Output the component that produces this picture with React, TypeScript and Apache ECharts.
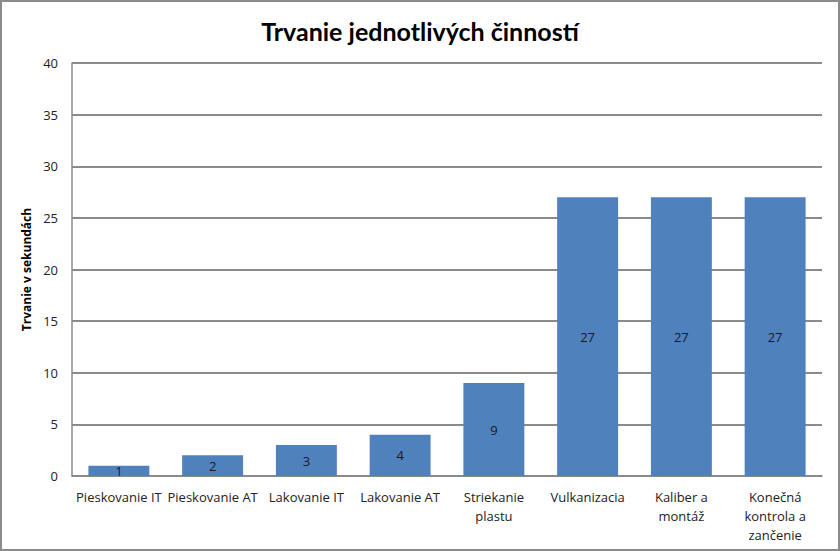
import React, { useEffect, useRef } from "react";
import * as echarts from "echarts";

const categories = [
  "Pieskovanie IT",
  "Pieskovanie AT",
  "Lakovanie IT",
  "Lakovanie AT",
  "Striekanie\nplastu",
  "Vulkanizacia",
  "Kaliber a\nmontáž",
  "Konečná\nkontrola a\nzančenie",
];
const values = [1, 2, 3, 4, 9, 27, 27, 27];
const titleText = "Trvanie jednotlivých činností";
const yAxisName = "Trvanie v sekundách";

export default function App() {
  const ref = useRef<HTMLDivElement>(null);
  useEffect(() => {
    document.body.style.margin = "0";
    const chart = echarts.init(ref.current!, null, { renderer: "svg" });
    const font = "Open Sans";
    chart.setOption({
      animation: false,
      backgroundColor: "#ffffff",
      title: {
        text: titleText,
        left: "center",
        top: 13,
        textStyle: { fontFamily: "Lato", fontSize: 25, fontWeight: "bold", color: "#000" },
      },
      graphic: [
        {
          type: "rect",
          shape: { x: 1, y: 1, width: 838, height: 549 },
          style: { fill: "none", stroke: "#8a8a8a", lineWidth: 2 },
          silent: true,
        },
      ],
      grid: { left: 72, right: 18, top: 63, bottom: 75, containLabel: false },
      xAxis: {
        type: "category",
        data: categories,
        axisLine: { lineStyle: { color: "#8a8a8a", width: 1.5 } },
        axisTick: { show: false },
        axisLabel: {
          interval: 0,
          margin: 11,
          fontFamily: font,
          fontSize: 13,
          color: "#222",
          lineHeight: 19,
        },
      },
      yAxis: {
        type: "value",
        min: 0,
        max: 40,
        interval: 5,
        name: yAxisName,
        nameLocation: "middle",
        nameGap: 38,
        nameRotate: 90,
        nameTextStyle: { fontFamily: font, fontSize: 12, fontWeight: "bold", color: "#000" },
        axisLine: { show: true, lineStyle: { color: "#8a8a8a", width: 1.5 } },
        axisTick: { show: false },
        axisLabel: { fontFamily: font, fontSize: 13, color: "#222", margin: 14 },
        splitLine: { lineStyle: { color: "#8a8a8a", width: 2 } },
      },
      series: [
        {
          type: "bar",
          data: values,
          barWidth: "65%",
          itemStyle: { color: "#4f81bd" },
          label: {
            show: true,
            position: "inside",
            fontFamily: font,
            fontSize: 13,
            color: "#1a1a1a",
          },
        },
      ],
    });
    return () => chart.dispose();
  }, []);
  return <div ref={ref} style={{ width: 840, height: 551 }} />;
}
